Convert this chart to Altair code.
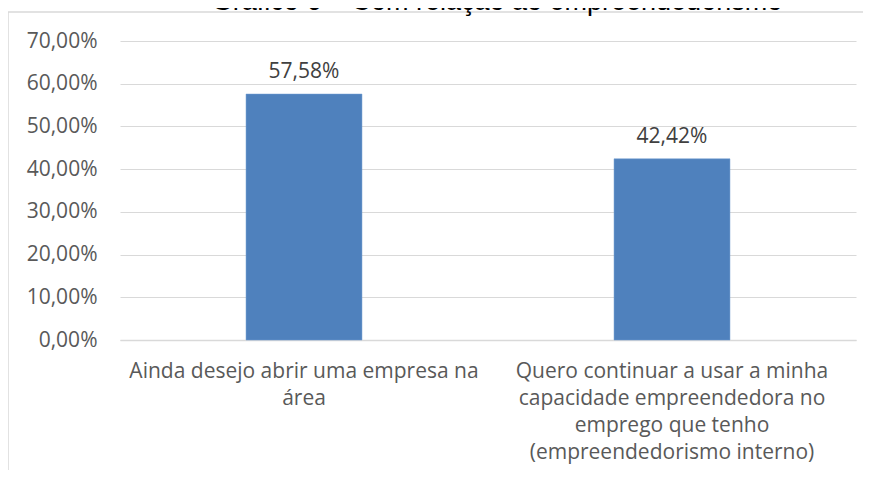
import altair as alt
import pandas as pd

categories = [
    "Ainda desejo abrir uma empresa na\nárea",
    "Quero continuar a usar a minha\ncapacidade empreendedora no\nemprego que tenho\n(empreendedorismo interno)",
]
values = [0.5758, 0.4242]
y_ticks = [0.0, 0.1, 0.2, 0.3, 0.4, 0.5, 0.6, 0.7]
title_text = "Gráfico 6 – Com relação ao empreendedorismo"

df = pd.DataFrame({"categoria": categories, "valor": values})

W, H = 736, 299
FONT = "Open Sans"

x_enc = alt.X(
    "categoria:N",
    sort=categories,
    scale=alt.Scale(paddingInner=0.685, paddingOuter=0.3425),
    axis=alt.Axis(
        title=None,
        labelAngle=0,
        labelExpr="split(datum.label, '\\n')",
        labelLineHeight=27,
        labelFont=FONT,
        labelFontSize=21,
        labelColor="#595959",
        labelPadding=20,
        labelLimit=0,
        ticks=False,
        domain=True,
        domainColor="#d9d9d9",
        domainWidth=1.5,
        grid=False,
    ),
)
y_enc = alt.Y(
    "valor:Q",
    scale=alt.Scale(domain=[0, 0.7], nice=False),
    axis=alt.Axis(
        title=None,
        values=y_ticks,
        labelExpr="replace(format(datum.value, '.2%'), '.', ',')",
        labelFont=FONT,
        labelFontSize=21,
        labelColor="#595959",
        labelPadding=23,
        ticks=False,
        domain=False,
        grid=True,
        gridColor="#d9d9d9",
        gridWidth=1,
    ),
)

bars = alt.Chart(df).mark_bar(color="#4f81bd", stroke="#6f9ad0", strokeWidth=0.5).encode(x=x_enc, y=y_enc)

labels = (
    alt.Chart(df)
    .transform_calculate(rot="replace(format(datum.valor, '.2%'), '.', ',')")
    .mark_text(font=FONT, fontSize=21, color="#404040", baseline="alphabetic", dy=-16)
    .encode(x=alt.X("categoria:N", sort=categories), y="valor:Q", text="rot:N")
)

box_df = pd.DataFrame({"k": [0]})
border = (
    alt.Chart(box_df)
    .mark_rect(fill=None, stroke="#d9d9d9", strokeWidth=1.5)
    .encode(x=alt.value(-112), x2=alt.value(760), y=alt.value(-29), y2=alt.value(460))
)
title = (
    alt.Chart(pd.DataFrame({"t": [title_text]}))
    .mark_text(font="Liberation Sans", fontSize=27, color="#000000", baseline="alphabetic", align="center")
    .encode(x=alt.value(377), y=alt.value(-31), text="t:N")
)

chart = (
    alt.layer(border, bars, labels, title)
    .properties(
        width=W,
        height=H,
        autosize=alt.AutoSizeParams(type="none"),
        padding={"left": 112, "top": 33, "right": 7, "bottom": 130},
    )
    .configure(background="white")
    .configure_view(stroke=None)
)

chart.save("out.html", embed_options={"renderer": "svg", "actions": False})
